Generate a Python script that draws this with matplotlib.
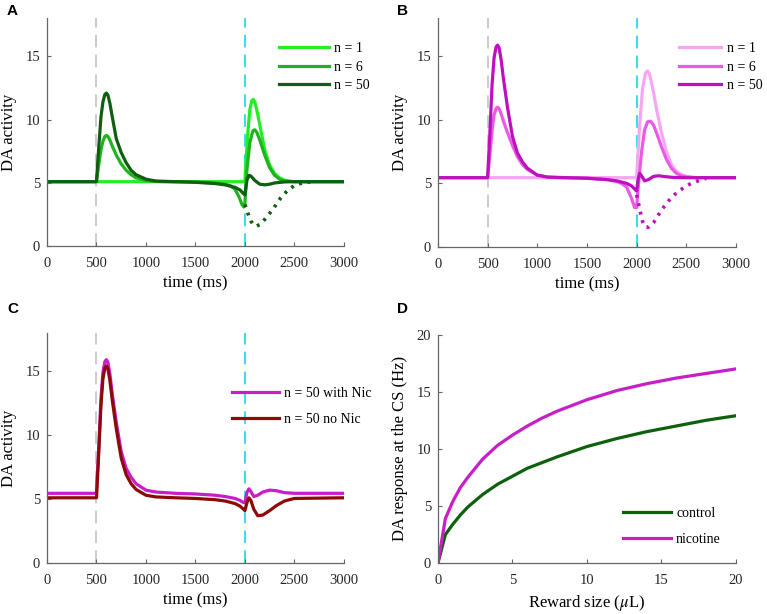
import matplotlib
matplotlib.use("Agg")
import matplotlib.pyplot as plt

plt.rcParams['font.family'] = ['Liberation Serif', 'DejaVu Serif']
plt.rcParams['mathtext.fontset'] = 'stix'

# ---- panel A (green, control) ----
a1_t = [0, 2000, 2010, 2030, 2050, 2070, 2085, 2100, 2130, 2160, 2200, 2250, 2300, 2350, 2400, 2450, 2500, 3000]
a1_y = [5.1, 5.1, 6.5, 9.0, 10.8, 11.5, 11.6, 11.4, 10.4, 9.2, 7.6, 6.4, 5.75, 5.4, 5.22, 5.13, 5.1, 5.1]

a6_t = [0, 500, 520, 545, 565, 585, 600, 615, 635, 660, 700, 750, 800, 850, 900, 1000, 1100, 1200, 1500, 1700,
        1800, 1850, 1900, 1940, 1970, 1990, 2000, 2020, 2050, 2080, 2100, 2120, 2150, 2200, 2250, 2300, 2350,
        2400, 2500, 3000]
a6_y = [5.1, 5.1, 6.3, 7.6, 8.3, 8.68, 8.75, 8.68, 8.4, 7.9, 7.2, 6.5, 6.0, 5.65, 5.4, 5.2, 5.12, 5.1, 5.08, 5.0,
        4.9, 4.8, 4.5, 3.9, 3.3, 3.1, 3.4, 6.0, 8.2, 9.1, 9.2, 9.0, 8.4, 7.2, 6.2, 5.6, 5.3,
        5.15, 5.1, 5.1]

a50_t = [0, 500, 520, 545, 565, 585, 600, 615, 635, 660, 700, 750, 800, 850, 900, 1000, 1100, 1300, 1500, 1700,
         1800, 1900, 1950, 1980, 2000, 2020, 2040, 2060, 2100, 2150, 2200, 2250, 2300, 2400, 2500, 3000]
a50_y = [5.1, 5.1, 7.5, 10.2, 11.4, 12.0, 12.1, 11.95, 11.3, 10.2, 8.5, 7.4, 6.6, 6.0, 5.65, 5.3, 5.15, 5.1,
         5.05, 4.95, 4.85, 4.65, 4.45, 4.2, 4.05, 5.2, 5.6, 5.55, 5.2, 4.9, 4.85, 4.9, 5.0, 5.08, 5.1, 5.1]

a_dot_t = [2000, 2030, 2060, 2090, 2120, 2160, 2220, 2290, 2360, 2430, 2500, 2600, 2700]
a_dot_y = [3.3, 2.6, 2.0, 1.65, 1.6, 1.75, 2.3, 3.0, 3.8, 4.4, 4.8, 5.05, 5.1]

# ---- panel B (magenta, nicotine) ----
b1_t = [0, 2000, 2010, 2030, 2060, 2090, 2110, 2130, 2160, 2200, 2250, 2300, 2350, 2400, 2450, 2500, 2600, 3000]
b1_y = [5.45, 5.45, 6.8, 9.5, 12.5, 13.7, 13.85, 13.6, 12.6, 10.9, 9.0, 7.5, 6.5, 5.95, 5.7, 5.55, 5.45, 5.45]

b6_t = [0, 500, 520, 545, 565, 585, 600, 615, 635, 660, 700, 750, 800, 850, 900, 1000, 1100, 1200, 1500, 1700,
        1800, 1850, 1900, 1950, 1980, 2000, 2020, 2050, 2080, 2110, 2140, 2170, 2200, 2250, 2300, 2350, 2400,
        2450, 2500, 2600, 3000]
b6_y = [5.45, 5.45, 7.0, 9.2, 10.4, 10.9, 11.0, 10.9, 10.5, 9.9, 9.0, 8.0, 7.1, 6.5, 6.1, 5.65, 5.5, 5.45, 5.42,
        5.3, 5.15, 5.0, 4.7, 3.8, 3.1, 3.1, 5.0, 7.5, 9.2, 9.85, 9.9, 9.6, 9.0, 7.9, 6.9, 6.2, 5.8,
        5.6, 5.5, 5.45, 5.45]

b50_t = [0, 500, 520, 545, 565, 585, 600, 615, 635, 660, 700, 750, 800, 850, 900, 1000, 1100, 1300, 1500, 1700,
         1800, 1900, 1950, 1980, 2000, 2015, 2030, 2050, 2080, 2120, 2170, 2220, 2270, 2350, 2450, 3000]
b50_y = [5.45, 5.45, 8.5, 12.8, 14.9, 15.75, 15.9, 15.7, 14.8, 13.2, 11.0, 8.7, 7.4, 6.7, 6.2, 5.65, 5.5, 5.45,
         5.4, 5.3, 5.2, 5.0, 4.8, 4.55, 4.4, 5.3, 5.8, 5.6, 5.2, 5.3, 5.55, 5.6, 5.55, 5.48, 5.45, 5.45]

b_dot_t = [2000, 2030, 2060, 2090, 2120, 2170, 2250, 2320, 2380, 2480, 2550, 2620, 2700]
b_dot_y = [4.1, 3.0, 2.0, 1.55, 1.55, 1.9, 2.9, 3.6, 4.1, 4.7, 5.0, 5.2, 5.4]

# ---- panel C ----
c_t = [0, 500, 520, 545, 565, 585, 600, 615, 635, 660, 700, 750, 800, 850, 900, 1000, 1100, 1300, 1500, 1700,
       1800, 1900, 1950, 1980, 2000, 2020, 2040, 2060, 2090, 2130, 2180, 2250, 2320, 2400, 2500, 3000]
c_nic = [5.45, 5.45, 8.5, 12.8, 14.9, 15.75, 15.9, 15.7, 14.8, 13.2, 11.0, 8.7, 7.4, 6.7, 6.2, 5.7, 5.55, 5.45,
         5.4, 5.3, 5.2, 5.05, 4.9, 4.75, 4.7, 5.5, 5.8, 5.6, 5.2, 5.3, 5.55, 5.7, 5.65, 5.5, 5.45, 5.45]
c_nonic = [5.1, 5.1, 8.2, 12.3, 14.4, 15.25, 15.4, 15.2, 14.3, 12.7, 10.5, 8.2, 6.9, 6.2, 5.75, 5.3, 5.17, 5.1,
           5.05, 4.95, 4.85, 4.65, 4.45, 4.25, 4.1, 4.7, 5.1, 4.9, 4.2, 3.7, 3.75, 4.1, 4.5, 4.85, 5.05, 5.1]

# ---- panel D ----
reward = [0, 0.5, 1, 1.5, 2, 3, 4, 5, 6, 7, 8, 10, 12, 14, 16, 18, 20]
d_control = [0, 2.5, 3.4, 4.2, 4.9, 6.0, 6.9, 7.6, 8.3, 8.8, 9.3, 10.2, 10.9, 11.5, 12.0, 12.5, 12.9]
d_nicotine = [0, 3.9, 5.4, 6.6, 7.5, 9.1, 10.3, 11.2, 12.0, 12.7, 13.3, 14.3, 15.1, 15.7, 16.2, 16.6, 17.0]

lw = 2.3
grey = '#666666'


def style(ax, xlim, ylim, xticks, yticks):
    ax.set_xlim(*xlim)
    ax.set_ylim(*ylim)
    ax.set_xticks(xticks)
    ax.set_yticks(yticks)
    for s in ['top', 'right']:
        ax.spines[s].set_visible(False)
    for s in ['left', 'bottom']:
        ax.spines[s].set_color(grey)
        ax.spines[s].set_linewidth(0.9)
    ax.tick_params(direction='in', length=3, color=grey, labelsize=10.5, labelcolor='#262626')
    ax.tick_params(axis='x', pad=8)
    ax.tick_params(axis='y', pad=5)


def markers(ax):
    ax.plot([500, 500], [0, 18], color='#c8c8c8', lw=1.3, dashes=(7, 4), zorder=1)
    ax.plot([2000, 2000], [0, 18], color='#22dde8', lw=1.3, dashes=(7, 4), zorder=1)


fig = plt.figure(figsize=(7.67, 6.14), dpi=100)
axA = fig.add_axes([0.0613, 0.599, 0.387, 0.371])
axB = fig.add_axes([0.571, 0.598, 0.3885, 0.372])
axC = fig.add_axes([0.0613, 0.083, 0.387, 0.375])
axD = fig.add_axes([0.571, 0.083, 0.3885, 0.372])

tt = [0, 500, 1000, 1500, 2000, 2500, 3000]

# A
markers(axA)
axA.plot(a1_t, a1_y, color='#22ee22', lw=lw, label='n = 1')
axA.plot(a6_t, a6_y, color='#1fb41f', lw=lw, label='n = 6')
axA.plot(a50_t, a50_y, color='#0d600d', lw=lw, label='n = 50')
axA.plot(a_dot_t, a_dot_y, color='#0d600d', lw=2.6, ls=(0, (0.8, 1.6)))
style(axA, (0, 3000), (0, 18), tt, [0, 5, 10, 15])
axA.set_xlabel('time (ms)', fontsize=12, labelpad=4)
axA.set_ylabel('DA activity', fontsize=12, labelpad=6)
axA.legend(loc='upper right', bbox_to_anchor=(1.13, 0.95), frameon=False, fontsize=10,
           handlelength=3.6, handletextpad=0.4, labelspacing=0.38)

# B
markers(axB)
axB.plot(b1_t, b1_y, color='#f7a6f2', lw=lw, label='n = 1')
axB.plot(b6_t, b6_y, color='#ea5ae4', lw=lw, label='n = 6')
axB.plot(b50_t, b50_y, color='#be10be', lw=lw, label='n = 50')
axB.plot(b_dot_t, b_dot_y, color='#be10be', lw=2.6, ls=(0, (0.8, 1.6)))
style(axB, (0, 3000), (0, 18), tt, [0, 5, 10, 15])
axB.set_xlabel('time (ms)', fontsize=12, labelpad=4)
axB.set_ylabel('DA activity', fontsize=12, labelpad=6)
axB.legend(loc='upper right', bbox_to_anchor=(1.13, 0.95), frameon=False, fontsize=10,
           handlelength=3.0, handletextpad=0.4, labelspacing=0.38)

# C
markers(axC)
axC.plot(c_t, c_nic, color='#c81ec8', lw=lw, label='n = 50 with Nic')
axC.plot(c_t, c_nonic, color='#8c0a0a', lw=lw, label='n = 50 no Nic')
style(axC, (0, 3000), (0, 18), tt, [0, 5, 10, 15])
axC.set_xlabel('time (ms)', fontsize=12, labelpad=4)
axC.set_ylabel('DA activity', fontsize=12, labelpad=6)
axC.legend(loc='upper left', bbox_to_anchor=(0.58, 0.82), frameon=False, fontsize=10,
           handlelength=3.4, handletextpad=0.4, labelspacing=0.95)

# D
axD.plot(reward, d_control, color='#0d600d', lw=lw, label='control')
axD.plot(reward, d_nicotine, color='#c81ec8', lw=lw, label='nicotine')
style(axD, (0, 20), (0, 20), [0, 5, 10, 15, 20], [0, 5, 10, 15, 20])
axD.set_xlabel(r'Reward size ($\mu$L)', fontsize=12, labelpad=4)
axD.set_ylabel('DA response at the CS (Hz)', fontsize=12, labelpad=6)
axD.legend(loc='upper left', bbox_to_anchor=(0.58, 0.3), frameon=False, fontsize=10,
           handlelength=3.4, handletextpad=0.4, labelspacing=0.95)

for lab, x, y in [('A', 0.009, 0.993), ('B', 0.517, 0.993), ('C', 0.009, 0.508), ('D', 0.517, 0.508)]:
    fig.text(x, y, lab, fontsize=11, fontweight='bold', va='top', ha='left',
             family=['Liberation Sans', 'DejaVu Sans'])

fig.savefig('out.png', dpi=100)
